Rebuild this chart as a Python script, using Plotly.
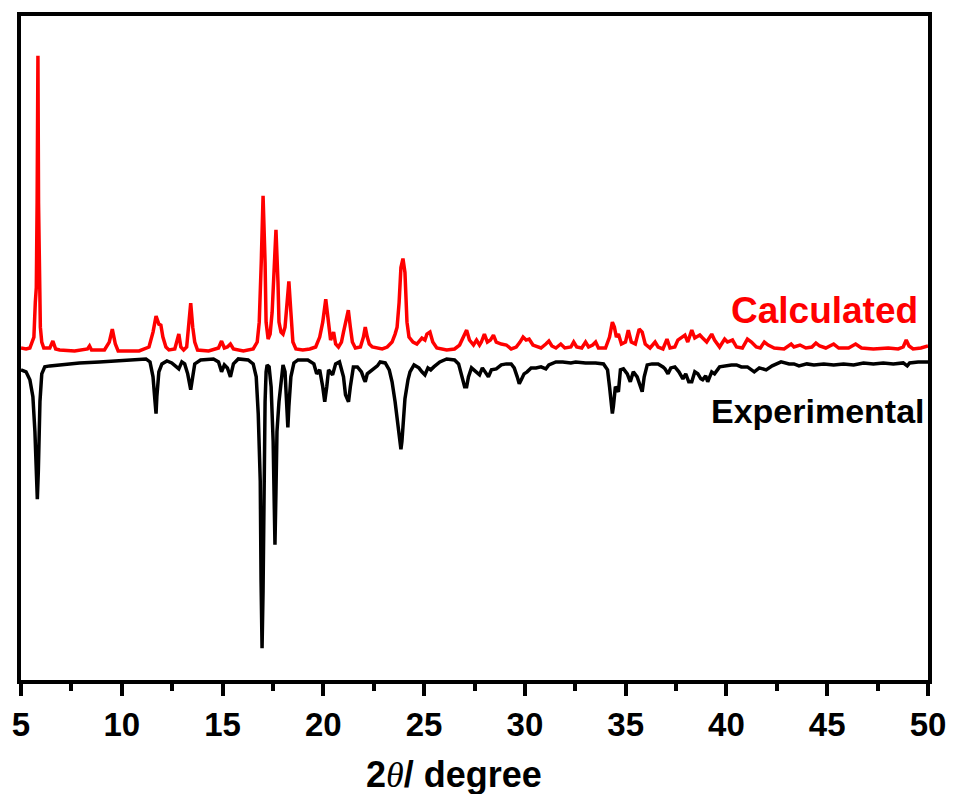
import plotly.graph_objects as go

# 2-theta (degree) and intensity (a.u., offset traces as plotted)
calc_2theta = [5.00, 5.25, 5.44, 5.64, 5.71, 5.76, 5.80, 5.84, 5.87, 5.91, 5.96, 6.03, 6.13, 6.43, 6.58, 6.72, 6.92, 7.66,
               8.30, 8.40, 8.50, 9.14, 9.38, 9.53, 9.68, 9.82, 10.86, 11.35, 11.55, 11.70, 11.84, 11.94, 12.04, 12.19,
               12.34, 12.63, 12.73, 12.83, 12.93, 13.07, 13.22, 13.32, 13.42, 13.52, 13.62, 13.76, 14.31, 14.80, 14.95,
               15.09, 15.24, 15.39, 15.54, 16.03, 16.52, 16.72, 16.82, 16.92, 17.01, 17.11, 17.16, 17.26, 17.36, 17.46,
               17.55, 17.65, 17.75, 17.80, 17.90, 18.00, 18.10, 18.19, 18.29, 18.39, 18.49, 18.64, 18.98, 19.33, 19.62,
               19.82, 19.97, 20.12, 20.26, 20.36, 20.51, 20.61, 20.75, 20.90, 21.00, 21.10, 21.20, 21.24, 21.34, 21.44,
               21.59, 21.84, 21.99, 22.08, 22.18, 22.28, 22.43, 22.68, 22.92, 23.17, 23.41, 23.56, 23.66, 23.76, 23.85,
               23.95, 24.05, 24.15, 24.25, 24.45, 24.64, 24.89, 25.04, 25.14, 25.29, 25.43, 25.63, 26.12, 26.51, 26.76,
               26.96, 27.11, 27.25, 27.45, 27.60, 27.75, 27.84, 27.99, 28.14, 28.29, 28.44, 28.58, 28.83, 29.08, 29.32,
               29.57, 29.76, 29.91, 30.06, 30.21, 30.40, 30.80, 31.04, 31.19, 31.34, 31.54, 31.78, 31.98, 32.28, 32.42,
               32.57, 32.82, 33.01, 33.16, 33.36, 33.51, 33.65, 34.00, 34.20, 34.34, 34.44, 34.54, 34.64, 34.79, 34.99,
               35.13, 35.28, 35.48, 35.67, 35.82, 35.97, 36.21, 36.46, 36.61, 36.85, 37.05, 37.20, 37.44, 37.59, 37.79,
               37.94, 38.08, 38.28, 38.43, 38.68, 38.82, 39.02, 39.27, 39.41, 39.66, 39.91, 40.05, 40.30, 40.50, 40.79,
               41.04, 41.24, 41.48, 41.68, 41.88, 42.07, 42.37, 42.86, 43.21, 43.35, 43.65, 43.94, 44.24, 44.44, 44.63,
               44.93, 45.32, 45.57, 46.06, 46.41, 46.70, 47.29, 48.03, 48.52, 48.77, 48.92, 49.06, 49.26, 49.65, 50.00]
calc_intensity = [334, 333, 334, 345, 380, 395, 480, 628, 480, 390, 355, 340, 334, 334, 341, 333, 332, 331,
                  333, 336, 332, 332, 340, 353, 338, 331, 331, 335, 350, 366, 358, 357, 345, 335,
                  332, 333, 340, 348, 335, 332, 335, 355, 379, 355, 340, 332, 331, 334, 341,
                  334, 335, 338, 333, 331, 333, 340, 360, 420, 487, 420, 360, 343, 348, 370,
                  420, 453, 400, 360, 350, 348, 355, 380, 401, 370, 340, 333, 332, 333, 335,
                  345, 360, 383, 355, 342, 350, 338, 335, 340, 350, 360, 370, 372, 355, 340,
                  334, 335, 345, 355, 345, 338, 335, 334, 333, 335, 340, 348, 355, 380, 415,
                  424, 410, 360, 345, 340, 338, 344, 342, 348, 350, 340, 334, 332, 333, 337,
                  345, 352, 342, 337, 342, 337, 340, 348, 340, 342, 347, 340, 338, 337, 333,
                  335, 340, 345, 342, 343, 337, 334, 338, 341, 336, 334, 338, 334, 335, 340,
                  335, 334, 340, 335, 337, 340, 334, 334, 345, 360, 355, 345, 348, 338, 340,
                  352, 340, 338, 353, 350, 338, 334, 340, 335, 333, 343, 334, 335, 342, 345,
                  347, 340, 352, 344, 347, 344, 340, 348, 342, 335, 343, 340, 342, 335, 334,
                  343, 340, 335, 334, 340, 337, 334, 333, 338, 335, 337, 334, 335, 339, 336,
                  334, 338, 334, 334, 338, 334, 333, 334, 333, 335, 342, 336, 333, 334, 336]

exp_2theta = [5.00, 5.25, 5.44, 5.59, 5.69, 5.76, 5.81, 5.86, 5.94, 6.03, 6.18, 6.43, 6.92, 7.90, 8.89, 9.87, 10.37,
              11.20, 11.40, 11.55, 11.65, 11.70, 11.74, 11.84, 11.99, 12.24, 12.48, 12.68, 12.83, 12.98, 13.12, 13.27,
              13.37, 13.42, 13.52, 13.62, 13.91, 14.55, 14.80, 14.95, 15.09, 15.24, 15.39, 15.54, 15.78, 16.27, 16.52,
              16.67, 16.77, 16.87, 16.91, 16.96, 17.01, 17.06, 17.11, 17.16, 17.21, 17.31, 17.41, 17.51, 17.55, 17.60,
              17.65, 17.70, 17.80, 17.90, 18.00, 18.10, 18.19, 18.24, 18.29, 18.39, 18.54, 18.74, 19.23, 19.53, 19.67,
              19.82, 19.97, 20.07, 20.17, 20.26, 20.46, 20.61, 20.80, 21.00, 21.10, 21.25, 21.34, 21.49, 21.69, 21.89,
              22.03, 22.08, 22.18, 22.43, 22.68, 22.82, 23.07, 23.27, 23.41, 23.56, 23.66, 23.76, 23.85, 23.90, 24.00,
              24.05, 24.20, 24.30, 24.50, 24.74, 24.89, 25.04, 25.19, 25.33, 25.48, 25.78, 26.12, 26.51, 26.71, 26.86,
              27.01, 27.11, 27.20, 27.35, 27.45, 27.60, 27.75, 27.89, 28.04, 28.19, 28.34, 28.58, 28.83, 29.08, 29.32,
              29.47, 29.62, 29.72, 29.82, 29.96, 30.11, 30.31, 30.55, 30.80, 31.04, 31.19, 31.54, 31.88, 32.28, 32.52,
              33.01, 33.51, 33.90, 34.10, 34.20, 34.29, 34.34, 34.39, 34.49, 34.64, 34.74, 34.89, 35.08, 35.23, 35.38,
              35.57, 35.72, 35.82, 35.92, 36.07, 36.31, 36.61, 36.85, 36.95, 37.10, 37.24, 37.44, 37.64, 37.84, 37.98,
              38.13, 38.28, 38.43, 38.58, 38.73, 38.82, 38.97, 39.07, 39.27, 39.41, 39.66, 39.91, 40.25, 40.50, 40.74,
              41.04, 41.38, 41.63, 41.97, 42.27, 42.71, 43.11, 43.35, 43.60, 43.99, 44.34, 44.83, 45.32, 45.81, 46.31,
              46.80, 47.29, 47.78, 48.28, 48.77, 48.97, 49.09, 49.51, 50.00]
exp_intensity = [312, 310, 302, 285, 250, 210, 182, 210, 280, 308, 315, 316, 317, 319, 320, 321, 322,
                 323, 320, 305, 280, 268, 285, 310, 318, 321, 319, 316, 313, 320, 318, 308,
                 295, 292, 305, 318, 322, 323, 320, 310, 317, 314, 305, 318, 323, 322, 318,
                 305, 268, 200, 100, 32, 90, 210, 280, 310, 317, 315, 295, 240, 180, 136,
                 190, 250, 280, 300, 317, 310, 280, 254, 275, 305, 319, 322, 322, 318, 308,
                 312, 295, 280, 295, 312, 307, 318, 320, 305, 287, 280, 295, 315, 315, 310,
                 302, 300, 308, 312, 316, 320, 319, 312, 300, 280, 263, 250, 232, 240, 270,
                 283, 302, 310, 317, 314, 310, 307, 314, 312, 315, 320, 323, 322, 318, 308,
                 295, 295, 305, 314, 312, 310, 307, 314, 310, 305, 312, 313, 317, 318, 318,
                 314, 305, 298, 302, 308, 310, 314, 314, 315, 313, 317, 320, 320, 319, 320,
                 319, 319, 318, 312, 295, 275, 268, 275, 295, 290, 312, 313, 308, 300, 310,
                 305, 295, 290, 305, 317, 318, 318, 315, 313, 308, 314, 315, 310, 303, 308,
                 300, 300, 310, 308, 303, 302, 306, 300, 310, 308, 315, 316, 317, 317, 315,
                 315, 310, 314, 312, 316, 320, 318, 318, 316, 318, 317, 318, 317, 318, 317,
                 319, 318, 319, 318, 319, 316, 319, 320, 320]

x_ticks = [5, 10, 15, 20, 25, 30, 35, 40, 45, 50]

fig = go.Figure()
fig.add_trace(go.Scatter(x=calc_2theta, y=calc_intensity, mode="lines", name="Calculated",
                         line=dict(color="#ff0000", width=3.5)))
fig.add_trace(go.Scatter(x=exp_2theta, y=exp_intensity, mode="lines", name="Experimental",
                         line=dict(color="#000000", width=3.5)))

bold = dict(family="Arial, Liberation Sans, sans-serif", weight="bold")

fig.add_annotation(x=49.6, y=372, xref="x", yref="y", text="Calculated", showarrow=False,
                   xanchor="right", yanchor="middle", font=dict(**bold, size=37, color="#ff0000"))
fig.add_annotation(x=0.999, y=271, xref="paper", yref="y", text="Experimental", showarrow=False,
                   xanchor="right", yanchor="middle", font=dict(**bold, size=34, color="#000000"))
fig.add_annotation(x=457 / 958, y=-0.108, xref="paper", yref="paper", showarrow=False,
                   xanchor="center", yanchor="top",
                   text='<b>2</b><span style="font-family:Liberation Serif;font-weight:normal"><i>θ</i></span><b>/ degree</b>',
                   font=dict(family="Arial, Liberation Sans, sans-serif", size=36, color="#000000"))

fig.update_layout(
    width=958, height=794,
    margin=dict(l=21, r=21, t=12, b=114),
    paper_bgcolor="white", plot_bgcolor="white",
    showlegend=False,
    xaxis=dict(range=[5, 50], tickvals=x_ticks, ticktext=[str(t) for t in x_ticks],
               showgrid=False, zeroline=False,
               showline=True, linecolor="black", linewidth=4, mirror=True,
               ticks="outside", ticklen=12, tickwidth=3.5, tickcolor="black",
               minor=dict(ticks="outside", ticklen=7, tickwidth=3.5, tickcolor="black", dtick=2.5, tick0=5),
               tickfont=dict(**bold, size=33, color="black")),
    yaxis=dict(range=[0, 668], showticklabels=False, ticks="", showgrid=False, zeroline=False,
               showline=True, linecolor="black", linewidth=4, mirror=True),
)

fig.write_html("out.html")
